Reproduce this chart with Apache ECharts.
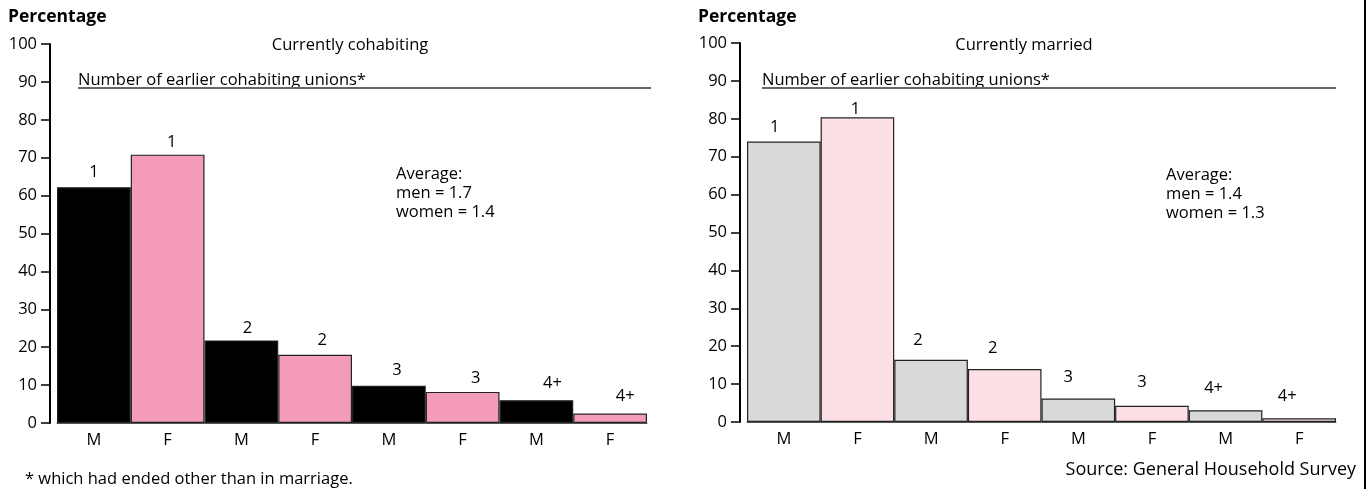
<!DOCTYPE html>
<html><head><meta charset="utf-8">
<script src="https://cdn.jsdelivr.net/npm/echarts@6/dist/echarts.min.js"></script>
<style>html,body{margin:0;padding:0;background:#fff}#c{width:1372px;height:489px}</style>
</head><body><div id="c"></div>
<script>
// ---- data ----
const categories = ['M', 'F', 'M', 'F', 'M', 'F', 'M', 'F'];
const unionLabels = ['1', '1', '2', '2', '3', '3', '4+', '4+'];
const cohabitingValues = [62.2, 70.8, 21.8, 18.0, 9.8, 8.2, 6.0, 2.5];
const marriedValues = [74.0, 80.4, 16.4, 14.0, 6.2, 4.3, 3.1, 1.0];
const cohabitingTitle = 'Currently cohabiting';
const marriedTitle = 'Currently married';
const subTitle = 'Number of earlier cohabiting unions*';
const cohabitingAverage = ['Average:', 'men = 1.7', 'women = 1.4'];
const marriedAverage = ['Average:', 'men = 1.4', 'women = 1.3'];
const yName = 'Percentage';
const footnote = '* which had ended other than in marriage.';
const source = 'Source: General Household Survey';

// ---- styles ----
const FONT = '"Open Sans", Lato, sans-serif';
const FS = 16.5;
const leftColors = ['#000000', '#f39bb9'];
const rightColors = ['#d9d9d9', '#fde0e6'];
const leftLabelShift = [[0, 14], [4, 12], [6, 12], [7, 14], [8, 15], [13, 13], [16, 16], [15, 17]];
const rightLabelShift = [[-9, 14], [-2, 7], [-13, 19], [-12, 20], [-10, 21], [-10, 23], [-12, 21], [-12, 21]];

const grids = [
  { left: 57, top: 44, width: 590, height: 379 },
  { left: 747, top: 43, width: 589, height: 379 }
];

function buildData(values, colors, shifts) {
  return values.map((v, i) => ({
    value: v,
    itemStyle: { color: colors[i % 2], borderColor: '#222', borderWidth: 1.2 },
    label: { offset: [shifts[i][0], -(shifts[i][1] - 8)] }
  }));
}

function xAxis(gi) {
  return {
    type: 'category', gridIndex: gi, data: categories,
    axisLine: { show: true, lineStyle: { color: '#555', width: 1 } },
    axisTick: { show: false },
    axisLabel: { color: '#000', fontSize: FS, fontFamily: FONT, margin: 9 },
    splitLine: { show: false }
  };
}
function yAxis(gi) {
  return {
    type: 'value', gridIndex: gi, min: 0, max: 100, interval: 10, offset: 7,
    axisLine: { show: true, lineStyle: { color: '#000', width: 2 } },
    axisTick: { show: true, length: 9, lineStyle: { color: '#000', width: 1.5 } },
    axisLabel: { color: '#000', fontSize: FS, fontFamily: FONT, margin: 13 },
    splitLine: { show: false }
  };
}
function series(gi, values, colors, shifts) {
  return {
    type: 'bar', xAxisIndex: gi, yAxisIndex: gi,
    barCategoryGap: '0%', barWidth: '100%',
    data: buildData(values, colors, shifts),
    label: {
      show: true, position: 'top', distance: 0, color: '#000', fontSize: FS, fontFamily: FONT,
      formatter: p => unionLabels[p.dataIndex]
    },
    silent: true, animation: false
  };
}
function txt(x, y, text, opts) {
  return { type: 'text', x: x, y: y, style: Object.assign({ text: text, fill: '#000', font: FS + 'px ' + FONT, textVerticalAlign: 'middle' }, opts || {}) };
}

const graphic = [
  txt(8, 17, yName, { font: 'bold 17.5px ' + FONT }),
  txt(698, 17, yName, { font: 'bold 17.5px ' + FONT }),
  txt(350, 45, cohabitingTitle, { textAlign: 'center' }),
  txt(1024, 45, marriedTitle, { textAlign: 'center' }),
  txt(78, 80, subTitle),
  txt(762, 80, subTitle),
  { type: 'line', shape: { x1: 78, y1: 88, x2: 651, y2: 88 }, style: { stroke: '#666', lineWidth: 2 } },
  { type: 'line', shape: { x1: 762, y1: 88, x2: 1336, y2: 88 }, style: { stroke: '#666', lineWidth: 2 } },
  txt(396, 165, cohabitingAverage.join('\n'), { textVerticalAlign: 'top', lineHeight: 19 }),
  txt(1166, 166, marriedAverage.join('\n'), { textVerticalAlign: 'top', lineHeight: 19 }),
  txt(25, 479, footnote),
  txt(1356, 470, source, { textAlign: 'right', font: '18px ' + FONT }),
  { type: 'line', shape: { x1: 1365, y1: 0, x2: 1365, y2: 489 }, style: { stroke: '#000', lineWidth: 2 } }
];

const chart = echarts.init(document.getElementById('c'), null, { renderer: 'canvas' });
chart.setOption({
  animation: false,
  backgroundColor: '#fff',
  grid: grids,
  xAxis: [xAxis(0), xAxis(1)],
  yAxis: [yAxis(0), yAxis(1)],
  series: [series(0, cohabitingValues, leftColors, leftLabelShift), series(1, marriedValues, rightColors, rightLabelShift)],
  graphic: graphic
});
</script></body></html>
